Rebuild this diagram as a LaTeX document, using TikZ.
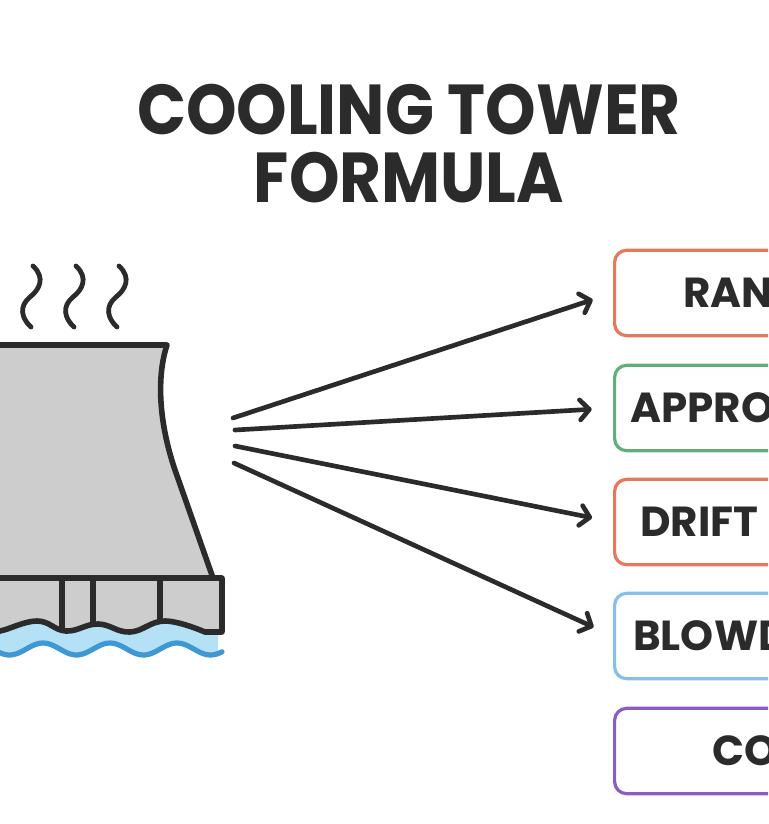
\documentclass[tikz,border=0pt]{standalone}
\usepackage{fontspec}
\setmainfont{Poppins}
\newfontfamily\titlefont{Poppins}[FakeStretch=0.91]
\usepackage{tikz}
\usetikzlibrary{positioning, arrows.meta}

\definecolor{ink}{RGB}{43,43,43}
\definecolor{towergray}{RGB}{205,205,205}
\definecolor{lightwater}{RGB}{180,225,245}
\definecolor{darkwater}{RGB}{62,152,212}
\definecolor{rangecol}{RGB}{233,119,92}
\definecolor{approachcol}{RGB}{98,175,126}
\definecolor{driftcol}{RGB}{233,119,92}
\definecolor{blowcol}{RGB}{132,192,234}
\definecolor{conccol}{RGB}{138,92,196}

\begin{document}
\begin{tikzpicture}[x=0.75pt,y=0.75pt,yscale=-1,xscale=1,
  outl/.style={draw=ink, line width=4.2pt, line join=round},
  steam/.style={draw=ink, line width=3.6pt, line cap=round},
  arr/.style={draw=ink, line width=3.5pt, line cap=round, -{Straight Barb[round,length=7pt,width=15pt]}, shorten >=16pt},
  box/.style={draw=#1, line width=2.4pt, rounded corners=9pt, minimum width=240pt, minimum height=64pt, anchor=west, inner sep=0pt},
  lbl/.style={font=\fontsize{31.5}{31.5}\selectfont\bfseries, text=ink, inner sep=0pt}]
%set diagram frame, 768 x 824
\path[use as bounding box, clip] (0,0) rectangle (768,824);

% Text Node
\node[font=\titlefont\fontsize{53}{51}\selectfont\bfseries, text=ink, align=center, inner sep=0pt] (title) at (409,144) {COOLING TOWER\\FORMULA};

%Shape: light water band
\fill[lightwater] (-10,620) -- (218,620) -- (218,649) -- plot[domain=218:-10, samples=60] (\x,{649-6*cos(5.373*(\x-43))}) -- cycle;
%Curve Lines: water wave
\draw[darkwater, line width=3.9pt, line cap=round] plot[domain=-10:222, samples=80] (\x,{649-6*cos(5.373*(\x-43))});

%Shape: Tower body
\draw[outl, fill=towergray] (-10,345) -- (167,345) .. controls (157,375) and (158,420) .. (175,470) -- (213,578) -- (-10,578) -- cycle;
%Shape: Tower base
\draw[outl, fill=towergray] (-10,578) -- (222,578) -- (222,632) -- plot[smooth, tension=0.7] coordinates {(205,632) (165,621) (130,632) (98,624) (66,631) (37,621) (0,631) (-10,629)} -- cycle;
%Straight Lines: base dividers
\draw[outl] (62,578) -- (62,630);
\draw[outl] (93,578) -- (93,625);
\draw[outl] (160,578) -- (160,623);

%Curve Lines: steam
\draw[steam] (33,266) .. controls (46,278) and (39,290) .. (30,297) .. controls (19,306) and (21,318) .. (31,327);
\draw[steam] (76,266) .. controls (89,278) and (82,290) .. (73,297) .. controls (62,306) and (64,318) .. (74,327);
\draw[steam] (119,266) .. controls (132,278) and (125,290) .. (116,297) .. controls (105,306) and (107,318) .. (117,327);

%Shape: Boxes
\node[box=rangecol] (range) at (613,293) {};
\node[box=approachcol] (approach) at (613,408) {};
\node[box=driftcol] (drift) at (613,522) {};
\node[box=blowcol] (blowdown) at (613,636) {};
\node[box=conccol] (conc) at (613,751) {};

% Text Node
\node[lbl, right=52.5pt of range.west] (range-t) {RAN};
% Text Node
\node[lbl, right=12.75pt of approach.west] (approach-t) {APPRO};
% Text Node
\node[lbl, right=20.25pt of drift.west] (drift-t) {DRIFT};
% Text Node
\node[lbl, right=15pt of blowdown.west] (blowdown-t) {BLOWD};
% Text Node
\node[lbl, right=74.25pt of conc.west] (conc-t) {CO};

%Straight Lines: arrows
\coordinate (s1) at (233,418);
\coordinate (s2) at (235,430);
\coordinate (s3) at (235,446);
\coordinate (s4) at (234,463);
\draw[arr] (s1) -- (range.west);
\draw[arr] (s2) -- (approach.west);
\draw[arr] (s3) -- (drift.west);
\draw[arr] (s4) -- (blowdown.west);

\end{tikzpicture}
\end{document}
